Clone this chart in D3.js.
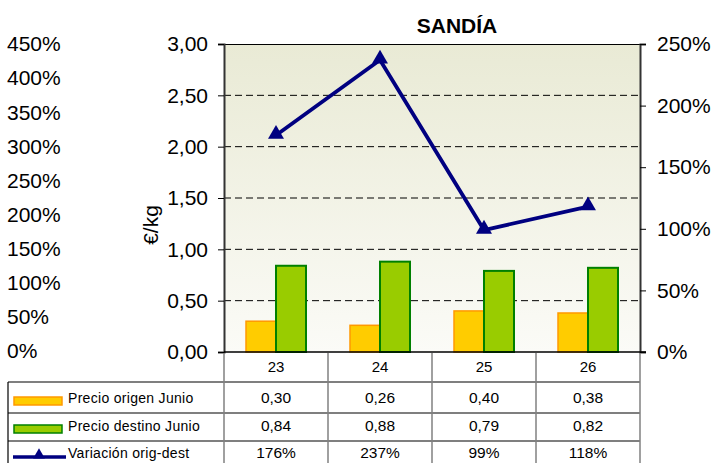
<!DOCTYPE html>
<html><head><meta charset="utf-8">
<script src="https://cdn.jsdelivr.net/npm/d3@7"></script>
<style>body{margin:0;background:#fff}svg{display:block}text{font-family:"Liberation Sans",Arial,sans-serif}</style>
</head><body><svg id="c" width="715" height="463"></svg>
<script>
const categories = ["23","24","25","26"];
const origen = [0.30,0.26,0.40,0.38];
const destino = [0.84,0.88,0.79,0.82];
const variacion = [1.76,2.37,0.99,1.18];
const leftTicks = [0,0.5,1,1.5,2,2.5,3];
const rightTicks = [0,0.5,1,1.5,2,2.5];
const outerTicks = [0,0.5,1,1.5,2,2.5,3,3.5,4,4.5];
const seriesNames = ["Precio origen Junio","Precio destino Junio","Variación orig-dest"];

const svg = d3.select("#c");
const L=224,R=640,T=44,B=352;
const x = d3.scaleBand().domain(categories).range([L,R]);
const yL = d3.scaleLinear().domain([0,3]).range([B,T]);
const yR = d3.scaleLinear().domain([0,2.5]).range([B,T]);
const yO = d3.scaleLinear().domain([0,4.5]).range([351,44]);
const fmt = d3.format(".2f");
const comma = v => fmt(v).replace(".",",");
const pct = v => Math.round(v*100)+"%";

const defs = svg.append("defs");
const g = defs.append("linearGradient").attr("id","bg").attr("x1",0).attr("y1",0).attr("x2",0).attr("y2",1);
g.append("stop").attr("offset","0%").attr("stop-color","#E9EAD5");
g.append("stop").attr("offset","100%").attr("stop-color","#FBFBF7");
svg.append("rect").attr("x",L).attr("y",T).attr("width",R-L).attr("height",B-T).attr("fill","url(#bg)");

// gridlines
svg.append("g").selectAll("line").data(leftTicks.filter(d=>d>0&&d<3)).join("line")
  .attr("x1",L).attr("x2",R).attr("y1",d=>yL(d)).attr("y2",d=>yL(d))
  .attr("stroke","#000").attr("stroke-width",1).attr("stroke-dasharray","7,4");
// top border
svg.append("line").attr("x1",L).attr("x2",R).attr("y1",T+0.5).attr("y2",T+0.5).attr("stroke","#000");

// bars
const bw = 30;
const cx = d => x(d)+x.bandwidth()/2;
svg.append("g").selectAll("rect").data(categories).join("rect")
  .attr("x",d=>cx(d)-bw).attr("y",(d,i)=>yL(origen[i])).attr("width",bw).attr("height",(d,i)=>B-yL(origen[i]))
  .attr("fill","#FFCC00").attr("stroke","#FF9900").attr("stroke-width",1.5);
svg.append("g").selectAll("rect").data(categories).join("rect")
  .attr("x",d=>cx(d)).attr("y",(d,i)=>yL(destino[i])).attr("width",bw).attr("height",(d,i)=>B-yL(destino[i]))
  .attr("fill","#99CC00").attr("stroke","#008000").attr("stroke-width",2);

// axes
const ax = svg.append("g").attr("transform",`translate(${L},0)`)
  .call(d3.axisLeft(yL).tickValues(leftTicks).tickFormat(comma).tickSize(6).tickPadding(10));
ax.select(".domain").attr("stroke","#333").attr("stroke-width",2);
ax.selectAll("text").attr("font-size",21).attr("fill","#000");
const ar = svg.append("g").attr("transform",`translate(${R},0)`)
  .call(d3.axisRight(yR).tickValues(rightTicks).tickFormat(pct).tickSize(6).tickPadding(11));
ar.select(".domain").attr("stroke","#333").attr("stroke-width",2);
ar.selectAll("text").attr("font-size",21).attr("fill","#000");
svg.append("line").attr("x1",L).attr("x2",R+6).attr("y1",B).attr("y2",B).attr("stroke","#000").attr("stroke-width",1.5);

// outer left labels
svg.append("g").selectAll("text").data(outerTicks).join("text")
  .attr("x",7).attr("y",d=>yO(d)).attr("dy","0.35em").attr("font-size",21).text(pct);

// y label
svg.append("text").attr("transform","translate(158,225) rotate(-90)").attr("text-anchor","middle")
  .attr("font-size",21).text("€/kg");

// title
svg.append("text").attr("x",457).attr("y",33).attr("text-anchor","middle").attr("font-size",21)
  .attr("font-weight","bold").text("SANDÍA");

// line
const line = d3.line().x((d,i)=>cx(categories[i])).y(d=>yR(d));
svg.append("path").datum(variacion).attr("d",line).attr("fill","none").attr("stroke","#000080").attr("stroke-width",3.8);
const tri = d3.symbol().type(d3.symbolTriangle).size(110);
svg.append("g").selectAll("path").data(variacion).join("path")
  .attr("transform",(d,i)=>`translate(${cx(categories[i])},${yR(d)-1})`).attr("d",tri).attr("fill","#000080");

// table
const tg = svg.append("g");
const rowLines=[382,413,441];
rowLines.forEach(y=>tg.append("line").attr("x1",8).attr("x2",R).attr("y1",y).attr("y2",y).attr("stroke","#000").attr("stroke-width",1.2));
tg.append("line").attr("x1",8).attr("x2",8).attr("y1",382).attr("y2",463).attr("stroke","#000").attr("stroke-width",1.2);
[L, ...categories.map(c=>x(c)+x.bandwidth())].forEach(xx=>
  tg.append("line").attr("x1",xx).attr("x2",xx).attr("y1",B+1).attr("y2",463).attr("stroke","#808080").attr("stroke-width",1.5));
tg.selectAll("text.cat").data(categories).join("text").attr("class","cat")
  .attr("x",d=>cx(d)).attr("y",372).attr("text-anchor","middle").attr("font-size",15).text(d=>d);
const rows=[origen.map(comma),destino.map(comma),variacion.map(pct)];
const baselines=[403,431,458];
rows.forEach((r,ri)=>{
  tg.append("g").selectAll("text").data(r).join("text").attr("x",(d,i)=>cx(categories[i])).attr("y",baselines[ri])
    .attr("text-anchor","middle").attr("font-size",15.5).text(d=>d);
  tg.append("text").attr("x",68).attr("y",baselines[ri]).attr("font-size",14).attr("letter-spacing",0.3).text(seriesNames[ri]);
});
// legend keys
tg.append("rect").attr("x",14).attr("y",397).attr("width",48).attr("height",8).attr("fill","#FFCC00").attr("stroke","#FF9900").attr("stroke-width",1.5);
tg.append("rect").attr("x",14).attr("y",425).attr("width",48).attr("height",8).attr("fill","#99CC00").attr("stroke","#008000").attr("stroke-width",1.5);
tg.append("line").attr("x1",13).attr("x2",66).attr("y1",457).attr("y2",457).attr("stroke","#000080").attr("stroke-width",3.5);
tg.append("path").attr("transform","translate(39,455)").attr("d",d3.symbol().type(d3.symbolTriangle).size(60)).attr("fill","#000080");
</script></body></html>
